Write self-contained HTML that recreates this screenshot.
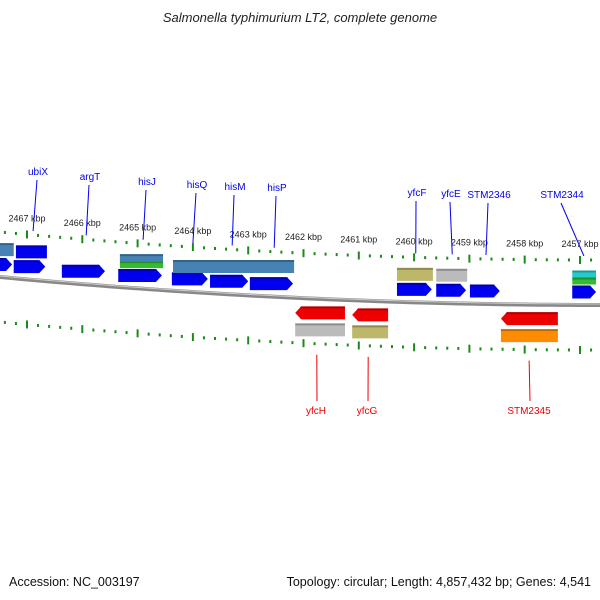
<!DOCTYPE html>
<html><head><meta charset="utf-8"><style>
body{margin:0;background:#fff;font-family:"Liberation Sans",sans-serif}
svg{display:block}
</style></head><body>
<svg id="map" width="600" height="600" viewBox="0 0 600 600" xmlns="http://www.w3.org/2000/svg">
<text x="300" y="22" text-anchor="middle" font-size="13" font-style="italic" fill="#222">Salmonella typhimurium LT2, complete genome</text>
<text x="9" y="586" font-size="12.5" fill="#111">Accession: NC_003197</text>
<text x="591" y="586" text-anchor="end" font-size="12.5" fill="#111">Topology: circular; Length: 4,857,432 bp; Genes: 4,541</text>
<g id="g"></g>
</svg>
<script>
const kbpTicks=[2467,2466,2465,2464,2463,2462,2461,2460,2459,2458,2457];
const fwdStarts=[2467.49,2467.24,2466.37,2465.35,2464.38,2463.69,2462.97,2460.31,2459.60,2458.99,2457.14];
const fwdEnds=[2467.27,2466.67,2465.59,2464.56,2463.73,2463.00,2462.19,2459.68,2459.06,2458.45,2456.71];
const fwdRow2Starts=[2467.49,2467.20,2465.32,2464.36,2460.31,2459.60,2457.14];
const fwdRow2Ends=[2467.24,2466.64,2464.54,2462.17,2459.66,2459.04,2456.71];
const fwdRow2Colors=["#4682b4","#0000ee","steelgreen","#4682b4","#bdb76b","#bbbbbb","cyangreen"];
const revStarts=[2462.15,2461.12,2458.43];
const revEnds=[2461.25,2460.47,2457.40];
const revRow2Colors=["#bbbbbb","#bdb76b","#ff8c00"];
const topLabels=["ubiX","argT","hisJ","hisQ","hisM","hisP","yfcF","yfcE","STM2346","STM2344"];
const topLabelX=[38,90,147,197,235,277,417,451,489,562];
const topLabelY=[175,180,185,188,190,191,196,197,198,198];
const topAnchorKbp=[2466.89,2465.93,2464.90,2464.0,2463.29,2462.53,2459.97,2459.31,2458.70,2456.93];
const botLabels=["yfcH","yfcG","STM2345"];
const botLabelX=[316,367,529];
const botAnchorKbp=[2461.76,2460.83,2457.92];

const svg=document.getElementById('g');const NS='http://www.w3.org/2000/svg';
function X(k){return 27+(2467-k)*55.3}
function B(x){const t=(600-x)/600;return 305-28*t*t}
function mk(t,a){const e=document.createElementNS(NS,t);for(const k in a)e.setAttribute(k,a[k]);svg.appendChild(e);return e}
let d='';for(let x=0;x<=600;x+=10)d+=(x?'L':'M')+x+','+B(x);
let bb=mk('path',{d:d,stroke:'#888',"stroke-width":4,fill:'none'});

mk('path',{d:d,stroke:'#ccc',"stroke-width":1,fill:'none',transform:'translate(0,-1)'});
for(let k=2468;k>=2456.6;k-=0.2){const kk=Math.round(k*10)/10;const x=X(kk);if(x<0||x>600)continue;
 const major=Math.abs(kk-Math.round(kk))<0.01;const L=major?8:3;
 [-45,45].forEach(o=>{const y=B(x)+o;const t=mk('line',{x1:x,x2:x,y1:y-L/2,y2:y+L/2,stroke:'#1a8a1a',"stroke-width":2});
 });}
kbpTicks.forEach(k=>{const x=X(k);const t=mk('text',{x:x,y:B(x)-58,"text-anchor":"middle","font-size":9,fill:'#222'});t.textContent=k+' kbp';
 });
function box(x1,x2,yc,h,fill,dir,name){
 const y=B((x1+x2)/2)+yc;let p;
 if(dir>0)p=`M${x1},${y-h/2}L${x2-6},${y-h/2}L${x2},${y}L${x2-6},${y+h/2}L${x1},${y+h/2}Z`;
 else if(dir<0)p=`M${x1+6},${y-h/2}L${x2},${y-h/2}L${x2},${y+h/2}L${x1+6},${y+h/2}L${x1},${y}Z`;
 else p=`M${x1},${y-h/2}L${x2},${y-h/2}L${x2},${y+h/2}L${x1},${y+h/2}Z`;
 const e=mk('path',{d:p,fill:fill});
 mk('rect',{x:x1+(dir<0?5:0),y:y-h/2,width:x2-x1-(dir?5:0),height:2,fill:'rgba(0,0,0,0.25)'});
}
fwdStarts.forEach((s,i)=>box(X(s),X(fwdEnds[i]),-13,13,'#0000ee',1,'forward-gene'));
fwdRow2Starts.forEach((s,i)=>{const x1=X(s),x2=X(fwdRow2Ends[i]);const c=fwdRow2Colors[i];
 if(c==='steelgreen'){box(x1,x2,-31,7,'#4682b4',0,'cog-feature');box(x1,x2,-24,7,'#33bb33',0,'cog-feature');}
 else if(c==='cyangreen'){box(x1,x2,-31,7,'#22cccc',0,'cog-feature');box(x1,x2,-24,7,'#33bb33',0,'cog-feature');}
 else box(x1,x2,-28,13,c,0,'cog-feature');});
revStarts.forEach((s,i)=>{box(X(s),X(revEnds[i]),14,13,'#ee0000',-1,'reverse-gene');box(X(s),X(revEnds[i]),31,13,revRow2Colors[i],0,'reverse-cog-feature');});
topLabels.forEach((n,i)=>{const ax=X(topAnchorKbp[i]);
 mk('line',{x1:topLabelX[i]-1,y1:topLabelY[i]+5,x2:ax,y2:B(ax)-49,stroke:'#0000ee',"stroke-width":1});
 const t=mk('text',{x:topLabelX[i],y:topLabelY[i],"text-anchor":"middle","font-size":10,fill:'#0000ee'});t.textContent=n;
 });
botLabels.forEach((n,i)=>{const ax=X(botAnchorKbp[i]);
 mk('line',{x1:ax,y1:B(ax)+56,x2:botLabelX[i]+1,y2:401,stroke:'#ee0000',"stroke-width":1});
 const t=mk('text',{x:botLabelX[i],y:414,"text-anchor":"middle","font-size":10,fill:'#ee0000'});t.textContent=n;
 });
</script>
</body></html>
